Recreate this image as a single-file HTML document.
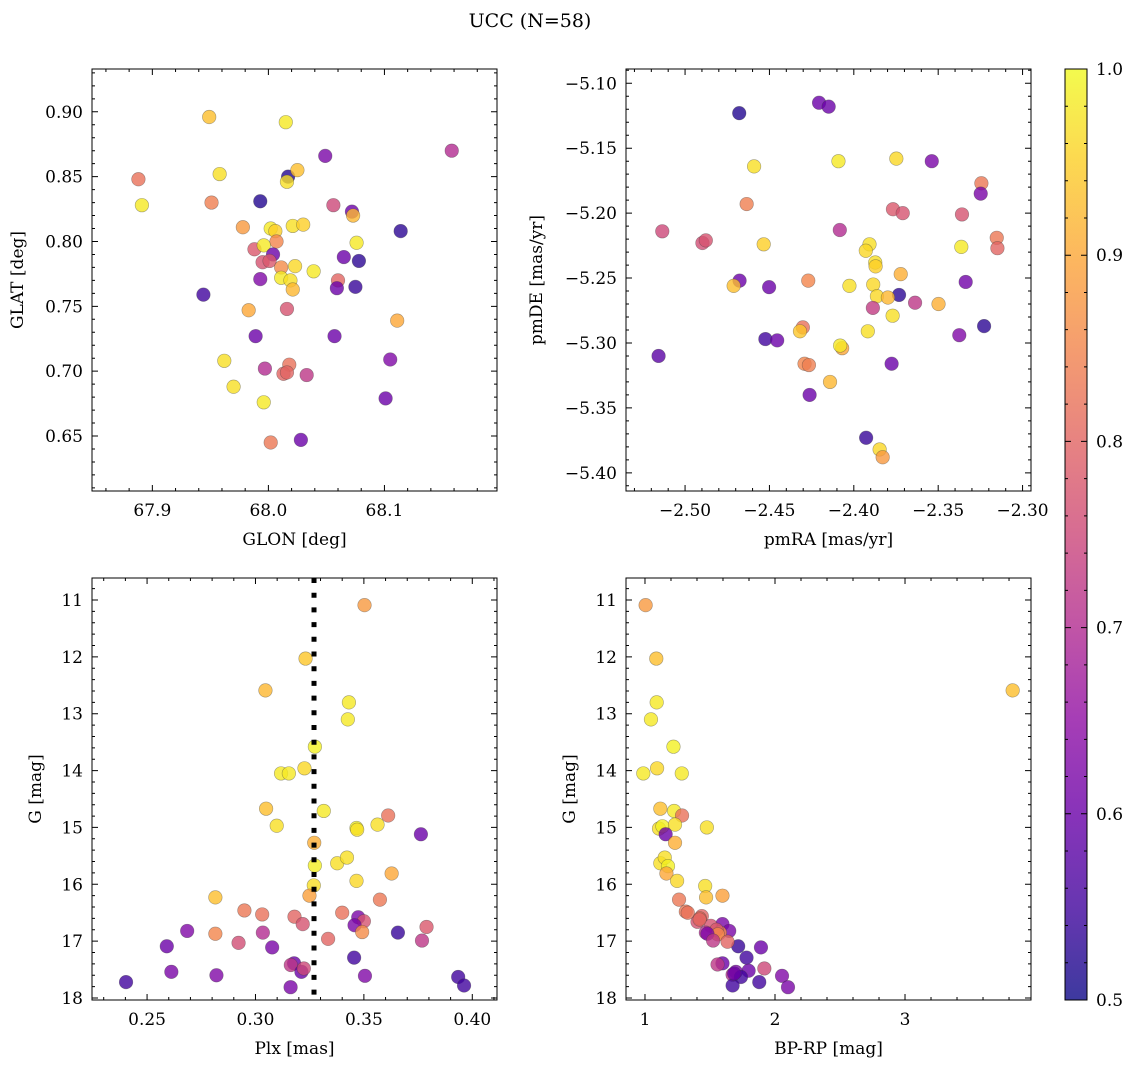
<!DOCTYPE html>
<html><head><meta charset="utf-8">
<style>
html,body{margin:0;padding:0;background:#fff;}
svg{display:block;font-family:"DejaVu Serif","Liberation Serif",serif;}
</style></head>
<body>
<svg id="chart" width="1136" height="1068" viewBox="0 0 1136 1068" xmlns="http://www.w3.org/2000/svg">
<text x="530" y="27" font-size="19" text-anchor="middle">UCC (N=58)</text>
</svg>
<script>
// ---- Panel 1: GLON vs GLAT ----
const glonX = [67.949,68.015,68.049,68.158,67.888,67.958,68.017,68.025,68.016,67.891,67.951,67.993,68.056,68.072,68.073,68.114,67.978,68.002,68.006,68.021,68.030,68.076,68.007,67.988,67.996,68.004,67.995,68.001,68.065,68.078,68.011,68.023,68.039,68.011,68.019,68.021,67.993,68.060,68.059,68.075,67.944,67.983,68.016,68.111,67.989,68.057,68.105,67.962,67.997,68.018,68.013,68.016,68.033,68.101,67.970,67.996,68.002,68.028];
const glatY = [0.896,0.892,0.866,0.870,0.848,0.852,0.850,0.855,0.846,0.828,0.830,0.831,0.828,0.823,0.820,0.808,0.811,0.810,0.808,0.812,0.813,0.799,0.800,0.794,0.797,0.790,0.784,0.785,0.788,0.785,0.780,0.781,0.777,0.772,0.770,0.763,0.771,0.770,0.764,0.765,0.759,0.747,0.748,0.739,0.727,0.727,0.709,0.708,0.702,0.705,0.698,0.699,0.697,0.679,0.688,0.676,0.645,0.647];
const glatC = [0.93,0.98,0.62,0.70,0.82,0.97,0.52,0.93,0.97,0.98,0.84,0.52,0.75,0.60,0.92,0.53,0.88,0.98,0.95,0.97,0.95,0.98,0.85,0.78,0.98,0.60,0.77,0.78,0.60,0.53,0.86,0.96,0.98,0.98,0.97,0.92,0.63,0.80,0.60,0.54,0.55,0.90,0.77,0.90,0.60,0.60,0.63,0.97,0.70,0.82,0.80,0.80,0.72,0.60,0.97,0.98,0.83,0.60];
// ---- Panel 2: pmRA vs pmDE ----
const pmraX = [-2.4679,-2.4206,-2.4149,-2.4591,-2.4091,-2.3748,-2.3538,-2.3244,-2.3248,-2.4635,-2.3768,-2.3710,-2.3359,-2.5135,-2.4083,-2.4897,-2.4877,-2.4534,-2.3907,-2.3929,-2.3363,-2.3153,-2.3149,-2.3873,-2.3871,-2.3722,-2.4677,-2.4712,-2.4502,-2.4270,-2.4026,-2.3885,-2.3732,-2.3863,-2.3798,-2.3337,-2.3637,-2.3498,-2.3887,-2.3770,-2.3228,-2.3375,-2.4302,-2.4319,-2.3917,-2.4524,-2.4454,-2.4069,-2.4081,-2.5157,-2.3776,-2.4292,-2.4266,-2.4141,-2.4262,-2.3927,-2.3847,-2.3829];
const pmdeY = [-5.123,-5.115,-5.118,-5.164,-5.160,-5.158,-5.160,-5.177,-5.185,-5.193,-5.197,-5.200,-5.201,-5.214,-5.213,-5.223,-5.221,-5.224,-5.224,-5.229,-5.226,-5.219,-5.227,-5.238,-5.241,-5.247,-5.252,-5.256,-5.257,-5.252,-5.256,-5.255,-5.263,-5.264,-5.265,-5.253,-5.269,-5.270,-5.273,-5.279,-5.287,-5.294,-5.288,-5.291,-5.291,-5.297,-5.298,-5.304,-5.302,-5.310,-5.316,-5.316,-5.317,-5.330,-5.340,-5.373,-5.382,-5.388];
const pmC = [0.52,0.60,0.60,0.97,0.98,0.96,0.62,0.83,0.62,0.84,0.78,0.77,0.77,0.75,0.70,0.76,0.77,0.95,0.97,0.96,0.98,0.83,0.80,0.97,0.95,0.91,0.60,0.93,0.60,0.85,0.97,0.96,0.53,0.96,0.92,0.61,0.72,0.91,0.73,0.97,0.53,0.63,0.82,0.94,0.97,0.55,0.60,0.90,0.98,0.58,0.60,0.85,0.84,0.92,0.60,0.54,0.96,0.88];
// ---- Panel 3: Plx vs G ----
const plxX = [0.3503,0.3231,0.3046,0.3431,0.3426,0.3274,0.3118,0.3154,0.3226,0.3049,0.3315,0.3612,0.3098,0.3466,0.3469,0.3563,0.3763,0.3271,0.3377,0.3422,0.3274,0.3628,0.3466,0.3269,0.3249,0.2815,0.3574,0.2949,0.3031,0.3180,0.3218,0.3400,0.3474,0.3500,0.3457,0.3492,0.3789,0.2685,0.2815,0.3034,0.3657,0.3335,0.2922,0.3768,0.2591,0.3077,0.3455,0.3178,0.3163,0.3212,0.3223,0.2612,0.2820,0.3505,0.3935,0.3962,0.2403,0.3162];
const plxG = [11.09,12.03,12.59,12.80,13.10,13.58,14.05,14.05,13.96,14.67,14.71,14.79,14.97,15.01,15.04,14.95,15.12,15.27,15.63,15.53,15.67,15.81,15.94,16.02,16.20,16.23,16.27,16.46,16.53,16.57,16.70,16.50,16.58,16.65,16.72,16.84,16.75,16.82,16.87,16.85,16.85,16.96,17.03,16.99,17.09,17.11,17.29,17.39,17.42,17.54,17.48,17.54,17.60,17.61,17.63,17.78,17.72,17.81];
const plxC = [0.88,0.94,0.92,0.98,0.98,0.99,0.98,0.98,0.96,0.93,0.98,0.82,0.97,0.99,0.97,0.97,0.60,0.91,0.97,0.97,0.99,0.90,0.96,0.97,0.89,0.93,0.83,0.83,0.82,0.80,0.77,0.82,0.62,0.77,0.62,0.86,0.78,0.63,0.85,0.70,0.54,0.80,0.76,0.72,0.60,0.62,0.55,0.60,0.72,0.60,0.75,0.62,0.63,0.63,0.55,0.55,0.55,0.62];
const plxRef = [0.327];
// ---- Panel 4: BP-RP vs G ----
const bprpX = [1.005,1.087,3.828,1.090,1.046,1.219,0.987,1.093,1.283,1.118,1.224,1.285,1.108,1.134,1.231,1.476,1.159,1.231,1.118,1.152,1.177,1.165,1.247,1.463,1.596,1.470,1.262,1.314,1.329,1.437,1.404,1.422,1.596,1.506,1.648,1.576,1.550,1.468,1.560,1.480,1.717,1.635,1.524,1.892,1.781,1.596,1.558,1.918,1.797,1.699,1.674,1.738,2.054,1.879,1.674,2.100,1.686,1.420];
const bprpG = [11.09,12.03,12.59,12.80,13.10,13.58,14.05,13.96,14.05,14.67,14.71,14.79,15.02,14.98,14.95,15.00,15.12,15.27,15.63,15.53,15.68,15.81,15.94,16.03,16.20,16.23,16.27,16.48,16.50,16.56,16.66,16.60,16.70,16.73,16.82,16.85,16.80,16.85,16.88,16.87,17.09,17.01,16.99,17.11,17.29,17.39,17.41,17.48,17.52,17.54,17.59,17.63,17.61,17.72,17.78,17.81,17.57,16.62];
const bprpC = [0.88,0.93,0.93,0.98,0.98,0.99,0.98,0.96,0.98,0.93,0.98,0.82,0.97,0.99,0.97,0.97,0.60,0.91,0.97,0.97,0.99,0.90,0.96,0.97,0.89,0.93,0.83,0.83,0.82,0.80,0.77,0.82,0.62,0.77,0.62,0.86,0.78,0.70,0.85,0.63,0.54,0.80,0.72,0.60,0.55,0.60,0.72,0.75,0.60,0.62,0.70,0.55,0.63,0.55,0.55,0.62,0.60,0.80];
// tick labels
const glonTicks = [67.9,68.0,68.1];
const glatTicks = [0.65,0.70,0.75,0.80,0.85,0.90];
const pmraTicks = [-2.50,-2.45,-2.40,-2.35,-2.30];
const pmdeTicks = [-5.40,-5.35,-5.30,-5.25,-5.20,-5.15,-5.10];
const plxTicks = [0.25,0.30,0.35,0.40];
const gTicks = [11,12,13,14,15,16,17,18];
const bprpTicks = [1,2,3];
const cbTicks = [0.5,0.6,0.7,0.8,0.9,1.0];

const NS = "http://www.w3.org/2000/svg";
const svg = document.getElementById('chart');
const FS = 17;
function mk(tag, attrs, parent){const e=document.createElementNS(NS,tag);for(const k in attrs)e.setAttribute(k,attrs[k]);(parent||svg).appendChild(e);return e;}

const plasma = [[13,8,135],[65,4,157],[106,0,168],[143,13,164],[177,42,144],[204,71,120],[225,100,98],[242,132,75],[252,166,54],[252,206,37],[240,249,33]];
function cmap(v){let t=(v-0.5)/0.5;t=Math.max(0,Math.min(1,t));const p=t*10,i=Math.min(9,Math.floor(p)),f=p-i;const a=plasma[i],b=plasma[i+1];return 'rgb('+[0,1,2].map(k=>Math.round(a[k]+(b[k]-a[k])*f)).join(',')+')';}
function fmt(v,d){const s=Math.abs(v).toFixed(d);return (v<0?'\u2212':'')+s;}

function panel(o){
  const g=mk('g',{});
  
  
  const sx=v=>o.x0+(v-o.xmin)/(o.xmax-o.xmin)*o.w;
  const sy=v=>o.inv ? o.y0+(v-o.ymin)/(o.ymax-o.ymin)*o.h : o.y0+o.h-(v-o.ymin)/(o.ymax-o.ymin)*o.h;
  for(let i=0;i<o.xs.length;i++){
    const c=mk('circle',{cx:sx(o.xs[i]),cy:sy(o.ys[i]),r:6.8,fill:cmap(o.cs[i]),'fill-opacity':0.8,stroke:'rgba(60,60,60,0.45)','stroke-width':0.6},g);
    
    
  }
  if(o.vline){
    const l=mk('line',{x1:sx(o.vline[0]),x2:sx(o.vline[0]),y1:o.y0,y2:o.y0+o.h,stroke:'#000','stroke-width':5,'stroke-dasharray':'5 9.7'},g);
    
    
  }
  const fr=mk('rect',{x:o.x0,y:o.y0,width:o.w,height:o.h,fill:'none',stroke:'#000','stroke-width':1},g);
  
  
  let p='';
  const eps=1e-9;
  for(let v=Math.ceil(o.xmin/o.xminor-eps)*o.xminor; v<=o.xmax+eps; v+=o.xminor){const X=sx(v);p+=`M${X},${o.y0+o.h}v-3M${X},${o.y0}v3`;}
  for(let v=Math.ceil(o.ymin/o.yminor-eps)*o.yminor; v<=o.ymax+eps; v+=o.yminor){const Y=sy(v);p+=`M${o.x0},${Y}h3M${o.x0+o.w},${Y}h-3`;}
  o.xt.forEach(v=>{const X=sx(v);p+=`M${X},${o.y0+o.h}v-6M${X},${o.y0}v6`;
    const t=mk('text',{x:X,y:o.y0+o.h+25,'font-size':FS,'text-anchor':'middle'},g);t.textContent=fmt(v,o.xd);
    
    });
  o.yt.forEach(v=>{const Y=sy(v);p+=`M${o.x0},${Y}h6M${o.x0+o.w},${Y}h-6`;
    const t=mk('text',{x:o.x0-9,y:Y+6,'font-size':FS,'text-anchor':'end'},g);t.textContent=fmt(v,o.yd);
    
    });
  const tk=mk('path',{d:p,stroke:'#000','stroke-width':1,fill:'none'},g);
  
  
  const xl=mk('text',{x:o.x0+o.w/2,y:o.y0+o.h+54,'font-size':FS,'text-anchor':'middle'},g);xl.textContent=o.xlabel;
  
  
  const yl=mk('text',{x:0,y:0,'font-size':FS,'text-anchor':'middle',transform:`translate(${o.ylx},${o.y0+o.h/2}) rotate(-90)`},g);yl.textContent=o.ylabel;
  
  
}

panel({name:'glon-glat-panel',x0:92,y0:69,w:405,h:422,xmin:67.848,xmax:68.197,ymin:0.6076,ymax:0.933,xs:glonX,ys:glatY,cs:glatC,xt:glonTicks,yt:glatTicks,xd:1,yd:2,xminor:0.02,yminor:0.01,xlabel:'GLON [deg]',ylabel:'GLAT [deg]',ylx:23});
panel({name:'pm-panel',x0:626,y0:69,w:405,h:422,xmin:-2.535,xmax:-2.295,ymin:-5.414,ymax:-5.089,xs:pmraX,ys:pmdeY,cs:pmC,xt:pmraTicks,yt:pmdeTicks,xd:2,yd:2,xminor:0.01,yminor:0.01,xlabel:'pmRA [mas/yr]',ylabel:'pmDE [mas/yr]',ylx:542});
panel({name:'plx-g-panel',x0:92,y0:578,w:405,h:422,xmin:0.2246,xmax:0.4114,ymin:10.613,ymax:18.035,inv:true,xs:plxX,ys:plxG,cs:plxC,xt:plxTicks,yt:gTicks,xd:2,yd:0,xminor:0.01,yminor:0.2,xlabel:'Plx [mas]',ylabel:'G [mag]',ylx:41,vline:plxRef});
panel({name:'cmd-panel',x0:626,y0:578,w:405,h:422,xmin:0.854,xmax:3.969,ymin:10.613,ymax:18.035,inv:true,xs:bprpX,ys:bprpG,cs:bprpC,xt:bprpTicks,yt:gTicks,xd:0,yd:0,xminor:0.2,yminor:0.2,xlabel:'BP-RP [mag]',ylabel:'G [mag]',ylx:575});

// colorbar
const defs=mk('defs',{});
const lg=mk('linearGradient',{id:'cbg',x1:0,y1:1,x2:0,y2:0},defs);
plasma.forEach((c,i)=>mk('stop',{offset:i/10,'stop-color':`rgb(${c.join(',')})`,'stop-opacity':0.8},lg));
const cbx=1065,cby=69,cbw=22,cbh=931;
const cb=mk('rect',{x:cbx,y:cby,width:cbw,height:cbh,fill:'url(#cbg)',stroke:'#000','stroke-width':1});


let cp='';
for(let v=0.5;v<=1.0001;v+=0.02){const Y=cby+cbh-(v-0.5)/0.5*cbh;cp+=`M${cbx},${Y}h3M${cbx+cbw},${Y}h-3`;}
cbTicks.forEach(v=>{const Y=cby+cbh-(v-0.5)/0.5*cbh;cp+=`M${cbx},${Y}h6M${cbx+cbw},${Y}h-6`;
  const t=mk('text',{x:cbx+cbw+9,y:Y+6,'font-size':FS});t.textContent=v.toFixed(1);
  
  });
const cbt=mk('path',{d:cp,stroke:'#000','stroke-width':1,fill:'none'});


</script>
</body></html>
